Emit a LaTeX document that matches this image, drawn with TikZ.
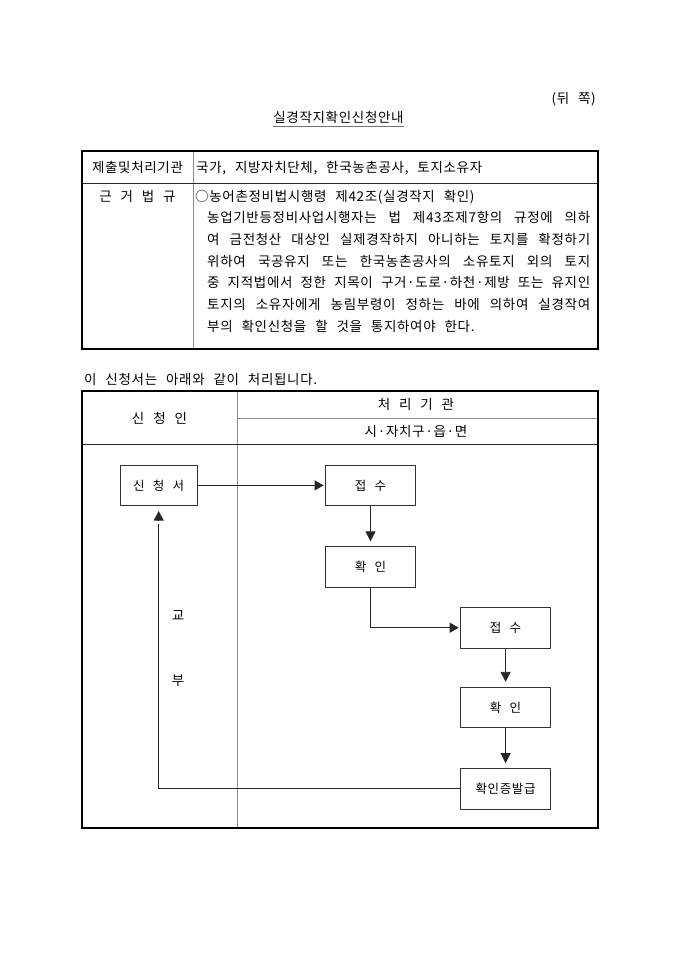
\documentclass[tikz,border=0pt]{standalone}
\usepackage{fontspec}
\setmainfont{Noto Sans CJK KR}[LetterSpace=5,WordSpace=2.4]
\usetikzlibrary{arrows.meta}
\begin{document}
\begin{tikzpicture}[x=1pt,y=-1pt,
  txt/.style={inner sep=0pt, font=\fontsize{13.5}{15}\selectfont},
  outerline/.style={line width=1.6pt, black},
  innerline/.style={line width=0.9pt, black!45},
  darkline/.style={line width=0.9pt, black!85},
  fbox/.style={draw=black!80, line width=0.8pt, minimum height=40.5pt, inner sep=0pt, font=\fontsize{12.5}{14}\selectfont},
  conn/.style={draw=black!85, line width=0.8pt},
  tipv/.style={-{Triangle[length=10pt,width=10pt]}, shorten >=5pt},
  tiph/.style={-{Triangle[length=9pt,width=10pt]}, shorten >=1.5pt},
]
\useasboundingbox[fill=white] (0,0) rectangle (680,962);

% header texts
\node[txt, anchor=base east] (side) at (596,103) {(뒤 쪽)};
\node[txt, anchor=base] (title) at (338.5,122) {실경작지확인신청안내};
\draw[line width=1.4pt, black!55] ([yshift=-3.5pt]title.south west) -- ([yshift=-3.5pt]title.south east);

% table 1
\draw[innerline] (193,151) -- (193,349);
\draw[darkline] (82,183) -- (598,183);
\draw[outerline] (82,151) rectangle (598,349);
\node[txt, anchor=base] (t1a) at (137.5,172) {제출및처리기관};
\node[txt, anchor=base west] (t1b) at (196,172) {국가, 지방자치단체, 한국농촌공사, 토지소유자};
\node[txt, anchor=base] (t1c) at (137.5,201) {근 거 법 규};
\node[txt, anchor=base west] (l1) at (195,201) {○농어촌정비법시행령 제42조(실경작지 확인)};
\node[txt, anchor=base west] (l2) at (207,222.7) {\makebox[383pt][s]{농업기반등정비사업시행자는 법 제43조제7항의 규정에 의하}};
\node[txt, anchor=base west] (l3) at (207,244.4) {\makebox[383pt][s]{여 금전청산 대상인 실제경작하지 아니하는 토지를 확정하기}};
\node[txt, anchor=base west] (l4) at (207,266.1) {\makebox[383pt][s]{위하여 국공유지 또는 한국농촌공사의 소유토지 외의 토지}};
\node[txt, anchor=base west] (l5) at (207,287.8) {\makebox[383pt][s]{중 지적법에서 정한 지목이 구거·도로·하천·제방 또는 유지인}};
\node[txt, anchor=base west] (l6) at (207,309.5) {\makebox[383pt][s]{토지의 소유자에게 농림부령이 정하는 바에 의하여 실경작여}};
\node[txt, anchor=base west] (l7) at (207,331.2) {부의 확인신청을 할 것을 통지하여야 한다.};

% caption
\node[txt, anchor=base west] (cap) at (84,384) {이 신청서는 아래와 같이 처리됩니다.};

% table 2
\draw[innerline] (237,391) -- (237,828);
\draw[innerline] (237,418) -- (598,418);
\draw[darkline] (82,444) -- (598,444);
\draw[outerline] (82,391) rectangle (598,828);
\node[txt, anchor=base] (h1t) at (416,409.5) {처 리 기 관};
\node[txt, anchor=base] (h2t) at (416,436) {시·자치구·읍·면};
\node[txt, anchor=base] (h3t) at (159.5,423) {신 청 인};

% flow boxes
\node[fbox, minimum width=76.5pt] (sin) at (158.7,485.4) {신 청 서};
\node[fbox, minimum width=90pt] (j1) at (370.5,485.4) {접 수};
\node[fbox, minimum width=90pt] (h1) at (370.5,567) {확 인};
\node[fbox, minimum width=90pt] (j2) at (505.6,627.7) {접 수};
\node[fbox, minimum width=90pt] (h2) at (505.6,707.5) {확 인};
\node[fbox, minimum width=90pt] (cert) at (505.6,788.8) {확인증발급};

% connectors
\draw[conn, tiph] (sin.east) -- (j1.west);
\draw[conn, tipv] (j1.south) -- (h1.north);
\draw[conn, tiph] (h1.south) |- (j2.west);
\draw[conn, tipv] (j2.south) -- (h2.north);
\draw[conn, tipv] (h2.south) -- (cert.north);
\draw[conn] (cert.west) -| ([yshift=-18pt]sin.south);
\draw[conn, -{Triangle[length=9.5pt,width=10pt]}] ([yshift=-14.5pt]sin.south) -- ([yshift=-5pt]sin.south);

\node[txt, anchor=base] (kyo) at (178,620.5) {교};
\node[txt, anchor=base] (bu) at (178,685.5) {부};
\end{tikzpicture}
\end{document}
